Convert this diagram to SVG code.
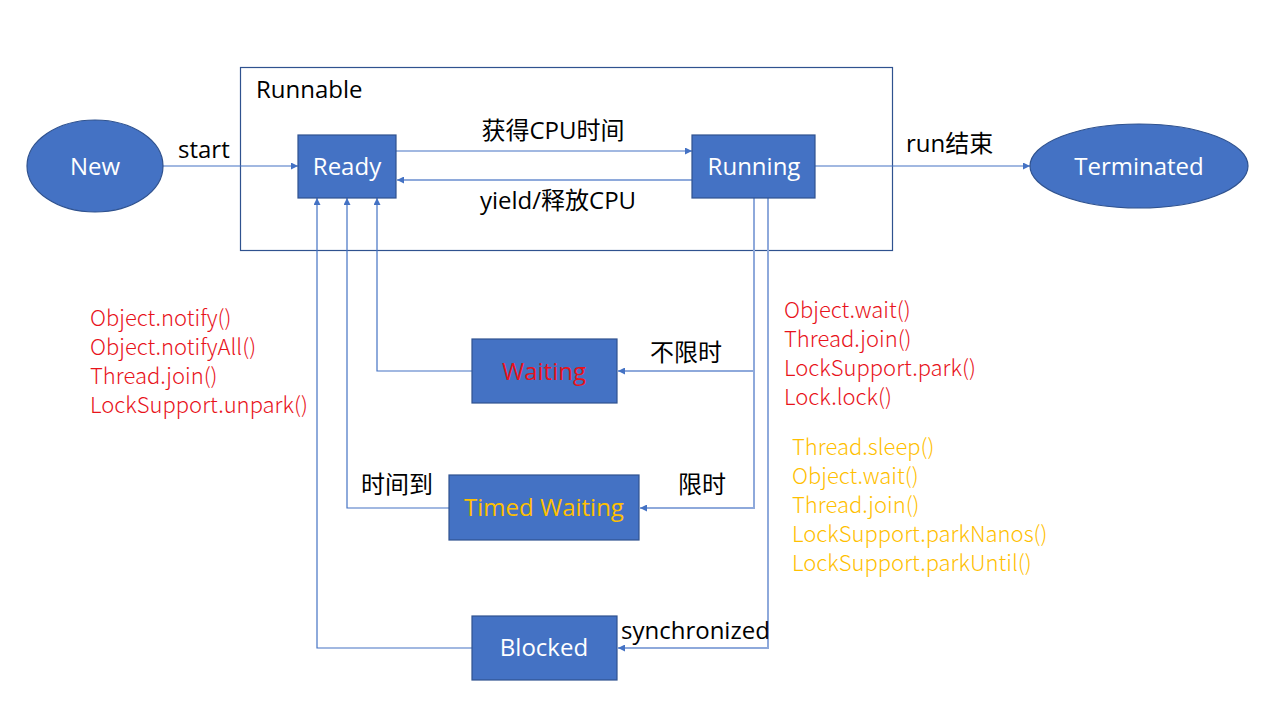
<svg xmlns="http://www.w3.org/2000/svg" width="1280" height="720" viewBox="0 0 1280 720">
<defs>
<marker id="arr" viewBox="0 0 10 10" refX="10" refY="5" markerWidth="7" markerHeight="7" markerUnits="userSpaceOnUse" orient="auto">
<path d="M0,0 L10,5 L0,10 z" fill="#4472C4"/>
</marker>
<style>
.node{fill:#4472C4;stroke:#2F528F;stroke-width:1.2}
.nt{font-family:"Open Sans","Noto Sans CJK SC",sans-serif;font-size:24px;fill:#fff;text-anchor:middle;dominant-baseline:central}
.lbl{font-family:"Open Sans","Noto Sans CJK SC",sans-serif;font-size:24px;fill:#000;dominant-baseline:central}
.c{fill:none;stroke:#4472C4;stroke-width:1.2}
.cl{fill:none;stroke:#8EA9DB;stroke-width:2}
.red{font-family:"Noto Sans CJK SC","Open Sans",sans-serif;font-weight:300;font-size:22px;fill:#E8131B;dominant-baseline:central}
.yel{font-family:"Noto Sans CJK SC","Open Sans",sans-serif;font-weight:300;font-size:22px;fill:#FFC000;dominant-baseline:central}
</style>
</defs>
<rect width="1280" height="720" fill="#fff"/>
<g id="runnable">
<rect x="240.5" y="67.5" width="652" height="183" fill="none" stroke="#2F528F" stroke-width="1.2"/>
<text class="lbl" x="256" y="88">Runnable</text>
</g>
<g id="connectors">
<line class="c" x1="163" y1="166" x2="298" y2="166" marker-end="url(#arr)"/>
<line class="c" x1="396" y1="151" x2="692" y2="151" marker-end="url(#arr)"/>
<line class="cl" x1="692" y1="180" x2="397" y2="180" marker-end="url(#arr)"/>
<line class="c" x1="815" y1="166" x2="1030" y2="166" marker-end="url(#arr)"/>
<polyline class="cl" points="754,198 754,371 618,371" marker-end="url(#arr)"/>
<polyline class="cl" points="754,371 754,508 640,508" marker-end="url(#arr)"/>
<polyline class="cl" points="768,198 768,648 618,648" marker-end="url(#arr)"/>
<polyline class="c" points="472,371 377,371 377,198" marker-end="url(#arr)"/>
<polyline class="c" points="449,508 347,508 347,198" marker-end="url(#arr)"/>
<polyline class="c" points="472,648 317,648 317,198" marker-end="url(#arr)"/>
<text class="lbl" x="178" y="148">start</text>
<text class="lbl" x="553" y="129" text-anchor="middle">获得CPU时间</text>
<text class="lbl" x="558" y="199" text-anchor="middle">yield/释放CPU</text>
<text class="lbl" x="906" y="142">run结束</text>
<text class="lbl" x="650" y="351">不限时</text>
<text class="lbl" x="361" y="483">时间到</text>
<text class="lbl" x="678" y="483">限时</text>
<text class="lbl" x="621" y="629">synchronized</text>
</g>
<g id="new">
<ellipse class="node" cx="95" cy="166" rx="68" ry="46"/>
<text class="nt" x="95" y="165">New</text>
</g>
<g id="ready">
<rect class="node" x="298" y="135" width="98" height="63"/>
<text class="nt" x="347" y="165">Ready</text>
</g>
<g id="running">
<rect class="node" x="692" y="135" width="123" height="63"/>
<text class="nt" x="754" y="165">Running</text>
</g>
<g id="terminated">
<ellipse class="node" cx="1139" cy="166" rx="109" ry="42"/>
<text class="nt" x="1139" y="165">Terminated</text>
</g>
<g id="waiting">
<rect class="node" x="472" y="339" width="145" height="64"/>
<text class="nt" x="544" y="370" style="fill:#E8131B">Waiting</text>
</g>
<g id="timed-waiting">
<rect class="node" x="449" y="475" width="190" height="65"/>
<text class="nt" x="544" y="506" style="fill:#FFC000">Timed Waiting</text>
</g>
<g id="blocked">
<rect class="node" x="472" y="616" width="145" height="64"/>
<text class="nt" x="544" y="646">Blocked</text>
</g>
<g id="notes">
<text class="red" x="90" y="316">Object.notify()</text>
<text class="red" x="90" y="345">Object.notifyAll()</text>
<text class="red" x="90" y="374">Thread.join()</text>
<text class="red" x="90" y="403">LockSupport.unpark()</text>
<text class="red" x="784" y="308">Object.wait()</text>
<text class="red" x="784" y="337">Thread.join()</text>
<text class="red" x="784" y="366">LockSupport.park()</text>
<text class="red" x="784" y="395">Lock.lock()</text>
<text class="yel" x="792" y="445">Thread.sleep()</text>
<text class="yel" x="792" y="474">Object.wait()</text>
<text class="yel" x="792" y="503">Thread.join()</text>
<text class="yel" x="792" y="532">LockSupport.parkNanos()</text>
<text class="yel" x="792" y="561">LockSupport.parkUntil()</text>
</g>
</svg>
